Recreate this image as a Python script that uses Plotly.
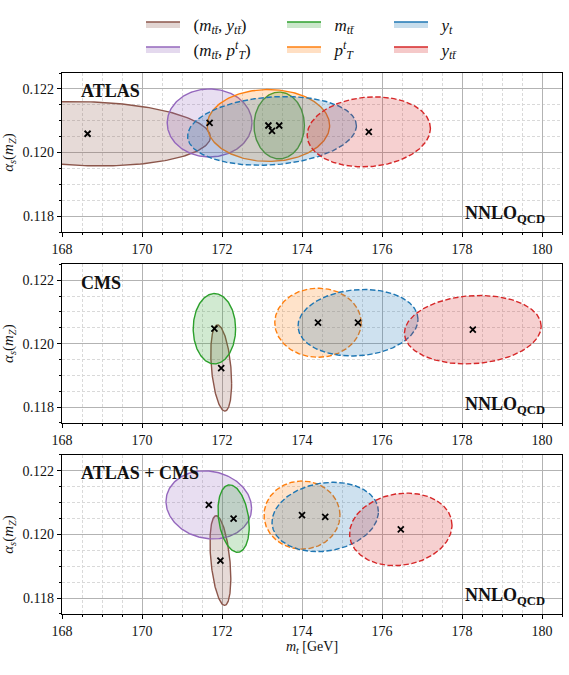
import numpy as np
import plotly.graph_objects as go

# ---------------- data ----------------
panels = ["ATLAS", "CMS", "ATLAS + CMS"]
obs_names = ["mtt_ytt", "mtt_pt", "mtt", "pt", "yt", "ytt"]
obs_labels = [
    "(<i>m</i><sub><i>tt̄</i></sub>, <i>y</i><sub><i>tt̄</i></sub>)",
    "(<i>m</i><sub><i>tt̄</i></sub>, <i>p</i><sup><i>t</i></sup><sub><i>T</i></sub>)",
    "<i>m</i><sub><i>tt̄</i></sub>",
    "<i>p</i><sup><i>t</i></sup><sub><i>T</i></sub>",
    "<i>y</i><sub><i>t</i></sub>",
    "<i>y</i><sub><i>tt̄</i></sub>",
]
colors = ["#8c564b", "#9467bd", "#2ca02c", "#ff7f0e", "#1f77b4", "#d62728"]

# central values (m_t [GeV], alpha_s), 1-sigma extents and correlation, order = obs_names
# None = not available
mt_atlas = [168.64, 171.69, 173.43, 173.16, 173.25, 175.67]
as_atlas = [0.12059, 0.12093, 0.12085, 0.12085, 0.12068, 0.12065]
smt_atlas = [3.07, 1.06, 0.63, 1.53, 2.11, 1.54]
sas_atlas = [0.00101, 0.00107, 0.00105, 0.00113, 0.00108, 0.00110]
rho_atlas = [-0.10, 0.0, 0.0, 0.0, 0.15, 0.10]
dash_atlas = ["solid", "solid", "solid", "solid", "dash", "dash"]

mt_cms = [171.98, None, 171.81, 174.40, 175.40, 178.27]
as_cms = [0.11923, None, 0.12047, 0.12066, 0.12066, 0.12044]
smt_cms = [0.26, None, 0.53, 1.08, 1.50, 1.71]
sas_cms = [0.00136, None, 0.00111, 0.00109, 0.00105, 0.00108]
rho_cms = [-0.35, None, 0.0, 0.0, 0.10, 0.10]
dash_cms = ["solid", None, "solid", "dash", "dash", "dash"]

mt_comb = [171.96, 171.67, 172.29, 174.00, 174.58, 176.47]
as_comb = [0.11918, 0.12093, 0.12050, 0.12061, 0.12055, 0.12016]
smt_comb = [0.26, 1.07, 0.39, 0.95, 1.33, 1.28]
sas_comb = [0.00141, 0.00107, 0.00106, 0.00107, 0.00109, 0.00114]
rho_comb = [-0.40, -0.10, -0.25, 0.0, 0.15, 0.12]
dash_comb = ["solid", "solid", "solid", "dash", "dash", "dash"]

panel_data = [
    (mt_atlas, as_atlas, smt_atlas, sas_atlas, rho_atlas, dash_atlas),
    (mt_cms, as_cms, smt_cms, sas_cms, rho_cms, dash_cms),
    (mt_comb, as_comb, smt_comb, sas_comb, rho_comb, dash_comb),
]

x_range = [168, 180.5]
y_range = [0.1175, 0.1225]
x_ticks = [168, 170, 172, 174, 176, 178, 180]
y_ticks = [0.118, 0.120, 0.122]
y_tick_text = ["0.118", "0.120", "0.122"]

# ---------------- figure ----------------
W, H = 569, 675
ML, MR, MT, MB = 62, 7, 62, 61
domains = [[0.706, 1.0], [0.3533, 0.6462], [0.0, 0.294]]
SERIF = "Liberation Serif, DejaVu Serif, Times New Roman, serif"

fig = go.Figure()
theta = np.linspace(0, 2 * np.pi, 241)
dash_map = {"solid": "solid", "dash": "5.5px,2.5px"}

def rgba(hexc, a):
    h = hexc.lstrip("#")
    r, g, b = int(h[0:2], 16), int(h[2:4], 16), int(h[4:6], 16)
    return f"rgba({r},{g},{b},{a})"

legend_pos = {
    0: (149, 12.5), 1: (149, 38), 2: (290, 12.5),
    3: (290, 38), 4: (397, 12.5), 5: (397, 38),
}

# legend-only entries (solid box outlines, as in the reference legend)
for i in range(len(obs_names)):
    fig.add_trace(go.Scatter(
        x=[None], y=[None], mode="lines", fill="toself",
        fillcolor=rgba(colors[i], 0.25),
        line=dict(color=colors[i], width=1.4),
        name="\u00a0\u00a0" + obs_labels[i], showlegend=True,
        legend="legend" if i == 0 else f"legend{i+1}",
        hoverinfo="skip",
    ))

for p, (mt, als, smt, sas, rho, dash) in enumerate(panel_data):
    xa = "x" if p == 0 else f"x{p+1}"
    ya = "y" if p == 0 else f"y{p+1}"
    cx, cy = [], []
    for i in range(len(obs_names)):
        if mt[i] is None:
            continue
        r = rho[i]
        ex = mt[i] + smt[i] * np.cos(theta)
        ey = als[i] + sas[i] * (r * np.cos(theta) + np.sqrt(1 - r * r) * np.sin(theta))
        fig.add_trace(go.Scatter(
            x=ex, y=ey, mode="lines", fill="toself",
            fillcolor=rgba(colors[i], 0.22),
            line=dict(color=colors[i], width=1.4, dash=dash_map[dash[i]]),
            name=obs_labels[i], showlegend=False,
            xaxis=xa, yaxis=ya, hoverinfo="skip",
        ))
        cx.append(mt[i])
        cy.append(als[i])
    fig.add_trace(go.Scatter(
        x=cx, y=cy, mode="markers",
        marker=dict(symbol="x-thin", size=6, color="black",
                    line=dict(color="black", width=1.8)),
        showlegend=False, xaxis=xa, yaxis=ya, hoverinfo="skip",
    ))

axis_font = dict(family=SERIF, size=14, color="#111")
minor_grid = "#d9d9d9"
common_x = dict(
    range=x_range, tickvals=x_ticks, ticktext=[str(v) for v in x_ticks],
    showline=True, mirror=True, linecolor="black", linewidth=1.2,
    ticks="outside", ticklen=4, tickwidth=1, tickcolor="black",
    showgrid=True, gridcolor="#b3b3b3", gridwidth=1,
    zeroline=False, tickfont=axis_font,
    minor=dict(dtick=0.5, tick0=168, showgrid=True, gridcolor=minor_grid,
               griddash="3px,2px", gridwidth=0.8, ticks="outside", ticklen=2,
               tickcolor="black"),
)
common_y = dict(
    range=y_range, tickvals=y_ticks, ticktext=y_tick_text,
    showline=True, mirror=True, linecolor="black", linewidth=1.2,
    ticks="outside", ticklen=4, tickwidth=1, tickcolor="black",
    showgrid=True, gridcolor="#b3b3b3", gridwidth=1,
    zeroline=False, tickfont=axis_font,
    minor=dict(dtick=0.0005, tick0=0.1175, showgrid=True, gridcolor=minor_grid,
               griddash="3px,2px", gridwidth=0.8, ticks="outside", ticklen=2,
               tickcolor="black"),
    title=dict(text="<i>α</i><sub><i>s</i></sub>(<i>m</i><sub><i>Z</i></sub>)",
               font=dict(family=SERIF, size=15, color="#111"),
               standoff=5),
)

layout = dict(
    width=W, height=H, margin=dict(l=ML, r=MR, t=MT, b=MB),
    plot_bgcolor="white", paper_bgcolor="white",
    font=dict(family=SERIF, color="#111"),
)
for p in range(3):
    sx = "" if p == 0 else str(p + 1)
    xd = dict(common_x, anchor=f"y{sx}", domain=[0, 1])
    if p == 2:
        xd["title"] = dict(text="<i>m</i><sub><i>t</i></sub> [GeV]",
                           font=dict(family=SERIF, size=14, color="#111"),
                           standoff=0)
    yd = dict(common_y, anchor=f"x{sx}", domain=domains[p])
    layout[f"xaxis{sx}"] = xd
    layout[f"yaxis{sx}"] = yd

# legends (one per entry, placed in 2 rows x 3 columns)
plot_w = W - ML - MR
plot_h = H - MT - MB
for i in range(6):
    px, py = legend_pos[i]
    key = "legend" if i == 0 else f"legend{i+1}"
    layout[key] = dict(
        x=(px - 8 - ML) / plot_w, y=1 + (MT - py) / plot_h,
        xanchor="left", yanchor="middle", bgcolor="rgba(0,0,0,0)",
        font=dict(family=SERIF, size=17, color="#111"),
        itemwidth=34, borderwidth=0,
    )

annotations = []
for p, name in enumerate(panels):
    sx = "" if p == 0 else str(p + 1)
    annotations.append(dict(
        text=f"<b>{name}</b>", xref=f"x{sx} domain", yref=f"y{sx} domain",
        x=0.033, y=0.885, xanchor="left", yanchor="middle", showarrow=False,
        font=dict(family=SERIF, size=18, color="#111"),
    ))
    annotations.append(dict(
        text="<b>NNLO<sub>QCD</sub></b>", xref=f"x{sx} domain", yref=f"y{sx} domain",
        x=0.97, y=0.11, xanchor="right", yanchor="middle", showarrow=False,
        font=dict(family=SERIF, size=18, color="#111"),
    ))
layout["annotations"] = annotations

fig.update_layout(**layout)
fig.write_html("out.html")
